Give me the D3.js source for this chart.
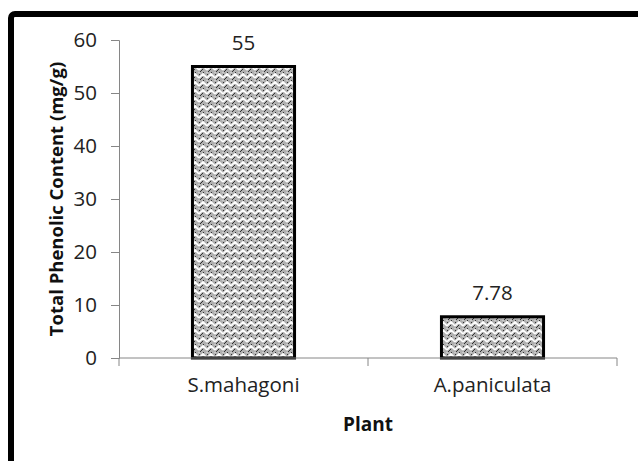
<!DOCTYPE html>
<html>
<head>
<meta charset="utf-8">
<script src="https://cdn.jsdelivr.net/npm/d3@7"></script>
<style>
  body { margin: 0; background: #fff; }
  text { font-family: "Open Sans", "Noto Sans", sans-serif; }
</style>
</head>
<body>
<svg id="chart"></svg>
<script>
// chart data
const plants = ["S.mahagoni", "A.paniculata"];
const phenolic = [55, 7.78];
const valueLabels = ["55", "7.78"];
const yTicks = [0, 10, 20, 30, 40, 50, 60];

const width = 638, height = 461;
const margin = { top: 40, right: 21, bottom: 103, left: 119 };

const svg = d3.select("#chart")
  .attr("width", width)
  .attr("height", height);

// weave-like fill, close to the excel pattern
const defs = svg.append("defs");
const pat = defs.append("pattern")
  .attr("id", "weave")
  .attr("patternUnits", "userSpaceOnUse")
  .attr("width", 8)
  .attr("height", 8);
pat.append("rect").attr("width", 8).attr("height", 8).attr("fill", "#b0b0b0");
pat.append("path")
  .attr("d", "M0,6 L4,2 L8,6 M-2,2 L0,0 M8,0 L10,2")
  .attr("fill", "none")
  .attr("stroke", "#fff")
  .attr("stroke-width", 1.7);
pat.append("path")
  .attr("d", "M1,8 L4,5 M4,1 L5,0 M0,3 L1,2")
  .attr("fill", "none")
  .attr("stroke", "#222")
  .attr("stroke-width", 0.9);

// outer frame (cut by the image border on the right and bottom)
svg.append("rect")
  .attr("x", 11).attr("y", 14)
  .attr("width", 700).attr("height", 500)
  .attr("rx", 4)
  .attr("fill", "none")
  .attr("stroke", "#000")
  .attr("stroke-width", 6);

const plotW = width - margin.left - margin.right;
const plotH = height - margin.top - margin.bottom;

const g = svg.append("g")
  .attr("transform", `translate(${margin.left},${margin.top})`);

const x = d3.scaleBand()
  .domain(plants)
  .range([0, plotW])
  .padding(0);

const barW = x.bandwidth() * 0.41;

const y = d3.scaleLinear()
  .domain([0, 60])
  .range([plotH, 0]);

// y axis
const yAxis = g.append("g")
  .call(d3.axisLeft(y).tickValues(yTicks).tickSize(8).tickPadding(14));
yAxis.select(".domain").attr("stroke", "#868686");
yAxis.selectAll(".tick line").attr("stroke", "#868686");
yAxis.selectAll(".tick text")
  .attr("font-size", 20.5)
  .attr("fill", "#222");

// bars
g.selectAll("rect.bar")
  .data(phenolic)
  .join("rect")
  .attr("class", "bar")
  .attr("x", (d, i) => x(plants[i]) + (x.bandwidth() - barW) / 2)
  .attr("y", d => y(d))
  .attr("width", barW)
  .attr("height", d => plotH - y(d))
  .attr("fill", "url(#weave)")
  .attr("stroke", "#000")
  .attr("stroke-width", 3);

// x axis with ticks on the category boundaries
const xAxis = g.append("g")
  .attr("transform", `translate(0,${plotH})`);
xAxis.append("line")
  .attr("x1", 0).attr("x2", plotW)
  .attr("stroke", "#868686");
xAxis.selectAll("line.tk")
  .data(plants.map(p => x(p)).concat([plotW]))
  .join("line")
  .attr("class", "tk")
  .attr("x1", d => d).attr("x2", d => d)
  .attr("y1", 0).attr("y2", 8)
  .attr("stroke", "#868686");
xAxis.selectAll("text.cat")
  .data(plants)
  .join("text")
  .attr("class", "cat")
  .attr("x", d => x(d) + x.bandwidth() / 2)
  .attr("y", 34)
  .attr("text-anchor", "middle")
  .attr("font-size", 20.5)
  .attr("fill", "#222")
  .text(d => d);

// value labels
g.selectAll("text.val")
  .data(phenolic)
  .join("text")
  .attr("class", "val")
  .attr("x", (d, i) => x(plants[i]) + x.bandwidth() / 2)
  .attr("y", d => y(d) - 17)
  .attr("text-anchor", "middle")
  .attr("font-size", 20.5)
  .attr("fill", "#222")
  .text((d, i) => valueLabels[i]);

// axis titles
svg.append("text")
  .attr("x", margin.left + plotW / 2)
  .attr("y", 431)
  .attr("text-anchor", "middle")
  .attr("font-size", 19)
  .attr("font-weight", "bold")
  .attr("fill", "#111")
  .text("Plant");

svg.append("text")
  .attr("transform", `translate(63,${margin.top + plotH / 2}) rotate(-90)`)
  .attr("text-anchor", "middle")
  .attr("font-size", 18.5)
  .attr("font-weight", "bold")
  .attr("fill", "#111")
  .text("Total Phenolic Content (mg/g)");
</script>
</body>
</html>
